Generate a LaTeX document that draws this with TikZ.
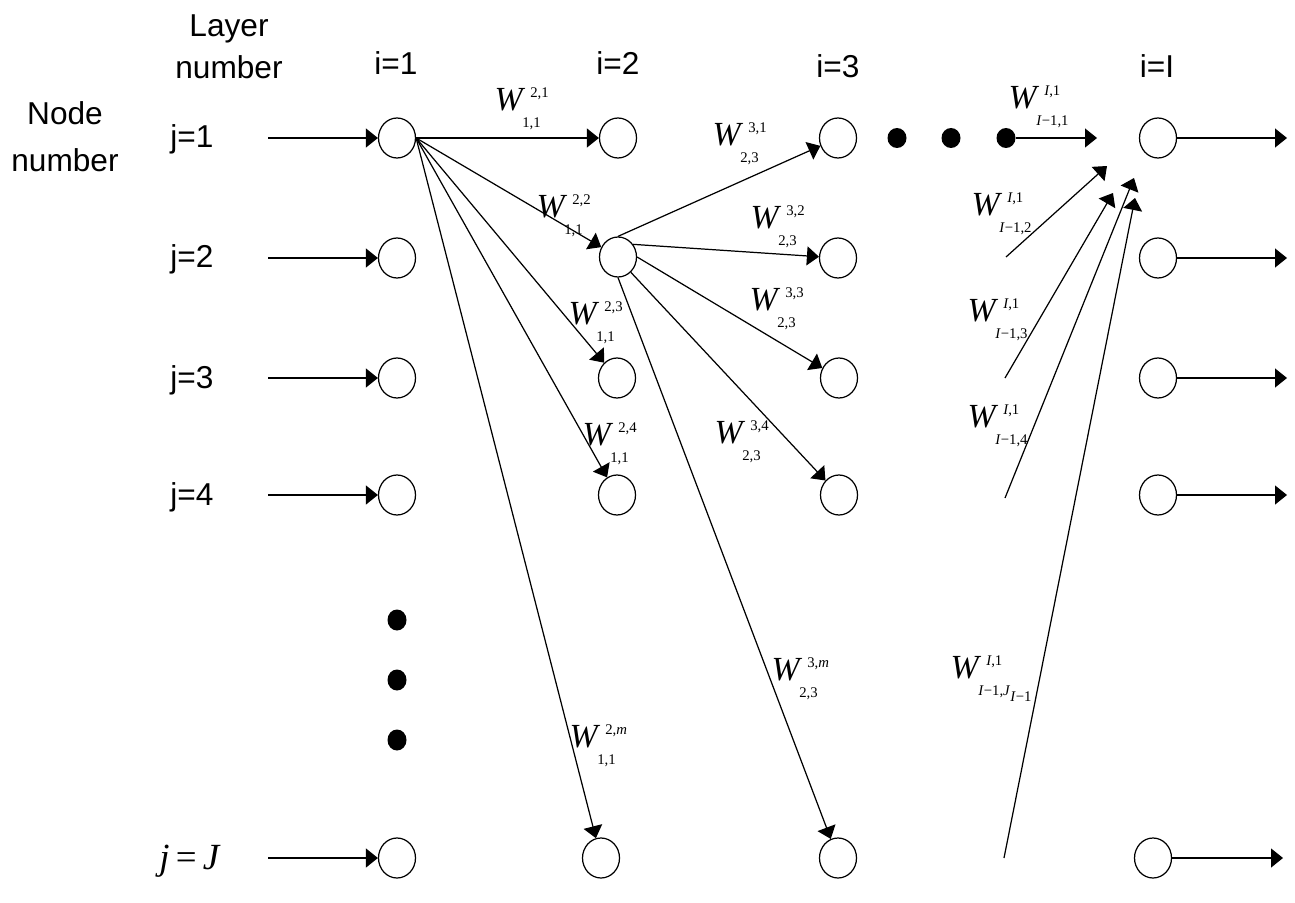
\documentclass[tikz,border=0pt]{standalone}
\usepackage{fontspec}
\setmainfont{Liberation Sans}
\newfontfamily\tms{Liberation Serif}
\usetikzlibrary{arrows.meta,shapes.geometric}
\tikzstyle{unit} = [ellipse, draw, fill=white, inner sep=0pt, minimum width=3.7mm, minimum height=4mm]
\tikzstyle{bigdot} = [ellipse, fill=black, inner sep=0pt, minimum width=1.9mm, minimum height=2.1mm]
\tikzstyle{lbl} = [inner sep=0pt, anchor=base, font=\fontsize{9}{11.7}\selectfont]
\tikzstyle{wt} = [inner sep=0pt, font=\tms\fontsize{9.6}{10}\selectfont]
\newcommand{\wsc}{\tms\fontsize{4.2}{4.5}\selectfont}
\newcommand{\wlab}[2]{\textit{W}\rlap{\kern0.5mm\raisebox{1.3mm}[0pt][0pt]{\wsc #1}}\rlap{\kern-0.3mm\raisebox{-1.7mm}[0pt][0pt]{\wsc #2}}}
\newcommand{\im}{\textit{I}}

\begin{document}
\begin{tikzpicture}[->,>={Triangle[length=1.2mm,width=1.9mm]},x=0.1mm,y=-0.1mm,line width=0.35pt]
  \useasboundingbox (0,0) rectangle (1295,903);
  % headings
  \node[lbl, anchor=south, align=center] (layer) at (229,79) {Layer\\number};
  \node[lbl, anchor=south, align=center, font=\fontsize{9}{13.2}\selectfont] (nodenum) at (65,172) {Node\\number};
  \node[lbl] (i1) at (396,75) {i=1};
  \node[lbl] (i2) at (618,75) {i=2};
  \node[lbl] (i3) at (838,78) {i=3};
  \node[lbl] (iI) at (1157,78) {i=I};
  \node[lbl] (j1) at (192,148) {j=1};
  \node[lbl] (j2) at (192,268) {j=2};
  \node[lbl] (j3) at (192,388) {j=3};
  \node[lbl] (j4) at (192,505) {j=4};
  \node[lbl, font=\tms\fontsize{10.5}{11}\selectfont] (jJ) at (190,869) {\textit{j}\,=\,\textit{J}};

  % layer i=1
  \node[unit] (N11) at (397,138) {};
  \node[unit] (N12) at (397,258) {};
  \node[unit] (N13) at (397,378) {};
  \node[unit] (N14) at (397,495) {};
  \node[unit] (N1J) at (397,858) {};
  % layer i=2
  \node[unit] (N21) at (618,138) {};
  \node[unit] (N22) at (618,257) {};
  \node[unit] (N23) at (617,378) {};
  \node[unit] (N24) at (617,495) {};
  \node[unit] (N2J) at (601,858) {};
  % layer i=3
  \node[unit] (N31) at (838,138) {};
  \node[unit] (N32) at (838,258) {};
  \node[unit] (N33) at (839,378) {};
  \node[unit] (N34) at (839,495) {};
  \node[unit] (N3J) at (838,858) {};
  % layer i=I
  \node[unit] (NI1) at (1158,138) {};
  \node[unit] (NI2) at (1158,258) {};
  \node[unit] (NI3) at (1158,378) {};
  \node[unit] (NI4) at (1158,495) {};
  \node[unit] (NIJ) at (1153,858) {};

  % dots
  \node[bigdot] (V1) at (397,620) {};
  \node[bigdot] (V2) at (397,680) {};
  \node[bigdot] (V3) at (397,740) {};
  \node[bigdot, minimum height=2mm] (H1) at (897,138) {};
  \node[bigdot, minimum height=2mm] (H2) at (951,138) {};
  \node[bigdot, minimum height=2mm] (H3) at (1006,138) {};

  % inputs and outputs
  \coordinate (in1) at (268,138);
  \coordinate (in2) at (268,258);
  \coordinate (in3) at (268,378);
  \coordinate (in4) at (268,495);
  \coordinate (inJ) at (268,858);
  \coordinate (out1) at (1287,138);
  \coordinate (out2) at (1287,258);
  \coordinate (out3) at (1287,378);
  \coordinate (out4) at (1287,495);
  \coordinate (outJ) at (1283,858);
  \path (in1) edge (N11);
  \path (in2) edge (N12);
  \path (in3) edge (N13);
  \path (in4) edge (N14);
  \path (inJ) edge (N1J);
  \path (NI1) edge (out1);
  \path (NI2) edge (out2);
  \path (NI3) edge (out3);
  \path (NI4) edge (out4);
  \path (NIJ) edge (outJ);

  % weights out of the first node
  \path (N11.east) edge (N21);
  \path (N11.east) edge (N22);
  \path (N11.east) edge (N23);
  \path (N11.east) edge (N24);
  \path (N11.east) edge (N2J);
  \path (N22.north) edge (N31);
  \path (N22.40) edge (N32);
  \path (N22.east) edge (N33);
  \path (N22.-50) edge (N34);
  \path (N22.south) edge (N3J);

  % weights into the last layer
  \coordinate (a0) at (1006,257);
  \coordinate (a1) at (1107,166);
  \coordinate (b0) at (1005,378);
  \coordinate (b1) at (1113,193);
  \coordinate (c0) at (1005,498);
  \coordinate (c1) at (1134,178);
  \coordinate (d0) at (1004,858);
  \coordinate (d1) at (1135,198);
  \coordinate (e1) at (1097,138);
  \path (H3.east) edge (e1);
  \path (a0) edge (a1);
  \path (b0) edge (b1);
  \path (c0) edge (c1);
  \path (d0) edge (d1);

  % weight labels
  \node[wt] (w21) at (510,100) {\wlab{2,1}{1,1}};
  \node[wt] (w22) at (552,207) {\wlab{2,2}{1,1}};
  \node[wt] (w23) at (584,314) {\wlab{2,3}{1,1}};
  \node[wt] (w24) at (598,435) {\wlab{2,4}{1,1}};
  \node[wt] (w2m) at (585,737) {\wlab{2,\textit{m}}{1,1}};
  \node[wt] (w31) at (728,135) {\wlab{3,1}{2,3}};
  \node[wt] (w32) at (766,218) {\wlab{3,2}{2,3}};
  \node[wt] (w33) at (765,300) {\wlab{3,3}{2,3}};
  \node[wt] (w34) at (730,433) {\wlab{3,4}{2,3}};
  \node[wt] (w3m) at (787,670) {\wlab{3,\textit{m}}{2,3}};
  \node[wt] (wI1) at (1024,98) {\wlab{\im,1}{\im−1,1}};
  \node[wt] (wI2) at (987,205) {\wlab{\im,1}{\im−1,2}};
  \node[wt] (wI3) at (983,311) {\wlab{\im,1}{\im−1,3}};
  \node[wt] (wI4) at (983,417) {\wlab{\im,1}{\im−1,4}};
  \node[wt] (wIJ) at (966,668) {\wlab{\im,1}{\im−1,\textit{J}\raisebox{-0.6mm}{\im−1}}};
\end{tikzpicture}
\end{document}
